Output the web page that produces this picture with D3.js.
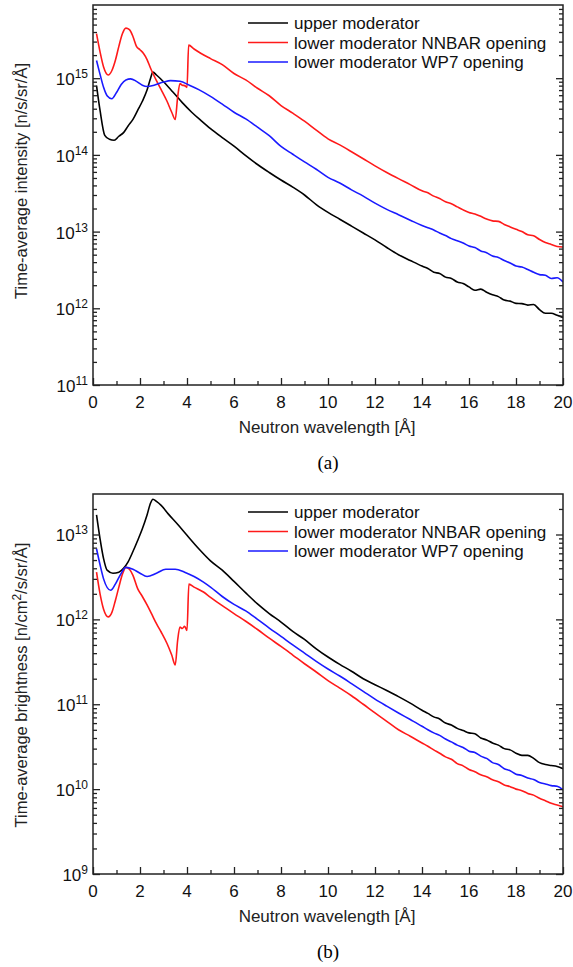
<!DOCTYPE html>
<html>
<head>
<meta charset="utf-8">
<script src="https://cdnjs.cloudflare.com/ajax/libs/d3/7.8.5/d3.min.js"></script>
<style>
  body { margin: 0; background: #fff; }
  svg { display: block; font-family: Arial, "Liberation Sans", sans-serif; }
</style>
</head>
<body>
<svg id="chart" width="573" height="967"></svg>
<script>
// wavelength [A], value pairs
// (a) time-average intensity [n/s/sr/A]
var upperA = [[0.15,8.0e14],[0.3,3.8e14],[0.5,1.8e14],[0.7,1.6e14],[0.9,1.55e14],[1.1,1.75e14],[1.3,1.95e14],[1.5,2.4e14],[1.7,2.9e14],[1.9,3.8e14],[2.1,5.0e14],[2.3,7.0e14],[2.45,1.0e15],[2.55,1.2e15],[2.7,1.1e15],[3.0,9.0e14],[3.4,6.6e14],[3.8,4.8e14],[4.2,3.6e14],[4.6,2.8e14],[5.0,2.2e14],[5.5,1.68e14],[6.0,1.3e14],[6.5,9.8e13],[7.0,7.5e13],[7.5,5.9e13],[8.0,4.7e13],[8.5,3.8e13],[9.0,3.0e13],[9.5,2.25e13],[10.0,1.78e13],[10.5,1.45e13],[11.0,1.18e13],[11.5,9.6e12],[12.0,7.8e12],[12.5,6.2e12],[13.0,5.0e12],[13.5,4.2e12],[14.0,3.55e12],[14.25,3.3e12],[14.5,2.95e12],[14.75,2.85e12],[15.0,2.55e12],[15.25,2.45e12],[15.5,2.2e12],[15.75,2.1e12],[16.0,1.9e12],[16.25,1.72e12],[16.5,1.78e12],[16.75,1.62e12],[17.0,1.5e12],[17.25,1.42e12],[17.5,1.28e12],[17.75,1.24e12],[18.0,1.16e12],[18.25,1.15e12],[18.5,1.1e12],[18.75,1.12e12],[19.0,9.6e11],[19.25,8.6e11],[19.5,8.6e11],[19.75,8.1e11],[20.0,7.6e11]];
var nnbarA = [[0.15,3.8e15],[0.3,2.2e15],[0.45,1.4e15],[0.65,1.1e15],[0.8,1.25e15],[0.95,1.7e15],[1.1,2.6e15],[1.25,3.8e15],[1.4,4.5e15],[1.55,4.3e15],[1.7,3.5e15],[1.85,2.6e15],[2.0,2.35e15],[2.15,2.1e15],[2.3,1.75e15],[2.45,1.35e15],[2.7,9.3e14],[2.9,7.1e14],[3.15,5.0e14],[3.35,3.6e14],[3.5,2.9e14],[3.6,5.6e14],[3.7,8.5e14],[3.8,8.1e14],[3.9,8.0e14],[4.0,7.6e14],[4.07,2.7e15],[4.3,2.4e15],[4.6,2.1e15],[5.0,1.8e15],[5.5,1.5e15],[6.0,1.15e15],[6.5,9.5e14],[7.0,7.4e14],[7.5,5.9e14],[8.0,4.4e14],[8.5,3.5e14],[9.0,2.75e14],[9.5,2.1e14],[10.0,1.62e14],[10.5,1.35e14],[11.0,1.1e14],[11.5,8.9e13],[12.0,7.2e13],[12.5,5.9e13],[13.0,4.9e13],[13.5,4.1e13],[14.0,3.4e13],[14.25,3.2e13],[14.5,2.9e13],[14.75,2.7e13],[15.0,2.45e13],[15.25,2.3e13],[15.5,2.1e13],[15.75,1.92e13],[16.0,1.78e13],[16.25,1.7e13],[16.5,1.58e13],[16.75,1.46e13],[17.0,1.38e13],[17.25,1.36e13],[17.5,1.24e13],[17.75,1.15e13],[18.0,1.07e13],[18.25,1.0e13],[18.5,9.1e12],[18.75,8.8e12],[19.0,7.9e12],[19.25,7.2e12],[19.5,6.8e12],[19.75,6.4e12],[20.0,6.3e12]];
var wp7A = [[0.15,1.7e15],[0.3,1.12e15],[0.45,7.6e14],[0.6,5.9e14],[0.8,5.4e14],[1.0,6.5e14],[1.2,8.3e14],[1.4,9.5e14],[1.6,9.8e14],[1.85,9.1e14],[2.1,8.1e14],[2.3,7.8e14],[2.6,8.1e14],[3.0,8.9e14],[3.3,9.3e14],[3.7,9.1e14],[4.1,8.1e14],[4.5,7.1e14],[5.0,5.8e14],[5.5,4.6e14],[6.0,3.6e14],[6.5,2.95e14],[7.0,2.3e14],[7.5,1.78e14],[8.0,1.29e14],[8.5,1.02e14],[9.0,8.1e13],[9.5,6.5e13],[10.0,5.1e13],[10.5,4.3e13],[11.0,3.5e13],[11.5,2.9e13],[12.0,2.35e13],[12.5,1.95e13],[13.0,1.66e13],[13.5,1.41e13],[14.0,1.2e13],[14.25,1.12e13],[14.5,1.05e13],[14.75,9.6e12],[15.0,8.9e12],[15.25,8.1e12],[15.5,7.6e12],[15.75,7.1e12],[16.0,6.5e12],[16.25,6.2e12],[16.5,5.6e12],[16.75,5.3e12],[17.0,4.8e12],[17.25,4.6e12],[17.5,4.2e12],[17.75,3.9e12],[18.0,3.55e12],[18.25,3.45e12],[18.5,3.2e12],[18.75,2.95e12],[19.0,2.75e12],[19.25,2.7e12],[19.5,2.45e12],[19.75,2.5e12],[20.0,2.2e12]];

// (b) time-average brightness [n/cm2/s/sr/A]
var upperB = [[0.15,1.7e13],[0.3,8.9e12],[0.45,5.2e12],[0.6,3.8e12],[0.85,3.5e12],[1.1,3.6e12],[1.3,4.0e12],[1.5,4.8e12],[1.7,6.3e12],[1.9,8.5e12],[2.1,1.17e13],[2.3,1.7e13],[2.45,2.35e13],[2.55,2.6e13],[2.7,2.45e13],[2.9,2.2e13],[3.2,1.75e13],[3.6,1.32e13],[4.0,9.8e12],[4.5,6.8e12],[5.0,4.9e12],[5.5,3.8e12],[6.0,2.8e12],[6.5,2.05e12],[7.0,1.52e12],[7.5,1.17e12],[8.0,9.3e11],[8.5,7.2e11],[9.0,5.8e11],[9.5,4.5e11],[10.0,3.6e11],[10.5,2.95e11],[11.0,2.45e11],[11.5,2.0e11],[12.0,1.7e11],[12.5,1.45e11],[13.0,1.23e11],[13.5,1.03e11],[14.0,8.5e10],[14.25,7.8e10],[14.5,7.1e10],[14.75,6.7e10],[15.0,6.0e10],[15.25,5.7e10],[15.5,5.2e10],[15.75,4.9e10],[16.0,4.6e10],[16.25,4.5e10],[16.5,4.0e10],[16.75,3.8e10],[17.0,3.5e10],[17.25,3.3e10],[17.5,3.0e10],[17.75,2.9e10],[18.0,2.65e10],[18.25,2.5e10],[18.5,2.5e10],[18.75,2.3e10],[19.0,2.05e10],[19.25,1.95e10],[19.5,1.9e10],[19.75,1.85e10],[20.0,1.74e10]];
var nnbarB = [[0.15,3.6e12],[0.3,2.0e12],[0.45,1.32e12],[0.65,1.07e12],[0.8,1.2e12],[0.95,1.66e12],[1.1,2.4e12],[1.25,3.4e12],[1.4,4.1e12],[1.55,3.9e12],[1.7,3.3e12],[1.9,2.3e12],[2.1,1.86e12],[2.3,1.48e12],[2.5,1.15e12],[2.7,8.9e11],[2.9,7.1e11],[3.15,5.2e11],[3.35,3.8e11],[3.5,2.9e11],[3.6,5.6e11],[3.7,8.1e11],[3.8,7.8e11],[3.9,8.3e11],[4.0,7.4e11],[4.08,2.6e12],[4.3,2.4e12],[4.7,2.1e12],[5.0,1.82e12],[5.5,1.45e12],[6.0,1.17e12],[6.5,9.5e11],[7.0,7.6e11],[7.5,6.0e11],[8.0,4.8e11],[8.5,3.8e11],[9.0,3.0e11],[9.5,2.4e11],[10.0,1.9e11],[10.5,1.55e11],[11.0,1.26e11],[11.5,1.0e11],[12.0,7.9e10],[12.5,6.3e10],[13.0,5.0e10],[13.5,4.2e10],[14.0,3.5e10],[14.25,3.2e10],[14.5,2.9e10],[14.75,2.65e10],[15.0,2.4e10],[15.25,2.25e10],[15.5,2.0e10],[15.75,1.88e10],[16.0,1.7e10],[16.25,1.6e10],[16.5,1.48e10],[16.75,1.4e10],[17.0,1.29e10],[17.25,1.22e10],[17.5,1.12e10],[17.75,1.07e10],[18.0,1.0e10],[18.25,9.6e9],[18.5,8.9e9],[18.75,8.5e9],[19.0,7.8e9],[19.25,7.3e9],[19.5,6.8e9],[19.75,6.5e9],[20.0,6.2e9]];
var wp7B = [[0.15,6.8e12],[0.3,4.4e12],[0.45,3.0e12],[0.75,2.2e12],[0.95,2.6e12],[1.15,3.3e12],[1.4,4.1e12],[1.7,3.9e12],[2.0,3.5e12],[2.3,3.2e12],[2.7,3.5e12],[3.1,3.9e12],[3.5,3.9e12],[3.9,3.6e12],[4.3,3.2e12],[4.7,2.75e12],[5.0,2.4e12],[5.5,1.86e12],[6.0,1.5e12],[6.5,1.26e12],[7.0,1.0e12],[7.5,7.9e11],[8.0,6.3e11],[8.5,5.0e11],[9.0,4.0e11],[9.5,3.2e11],[10.0,2.6e11],[10.5,2.15e11],[11.0,1.75e11],[11.5,1.42e11],[12.0,1.15e11],[12.5,9.5e10],[13.0,7.9e10],[13.5,6.6e10],[14.0,5.5e10],[14.25,5.0e10],[14.5,4.6e10],[14.75,4.3e10],[15.0,3.9e10],[15.25,3.6e10],[15.5,3.3e10],[15.75,3.1e10],[16.0,2.8e10],[16.25,2.7e10],[16.5,2.45e10],[16.75,2.3e10],[17.0,2.05e10],[17.25,1.95e10],[17.5,1.74e10],[17.75,1.65e10],[18.0,1.5e10],[18.25,1.45e10],[18.5,1.35e10],[18.75,1.3e10],[19.0,1.2e10],[19.25,1.15e10],[19.5,1.1e10],[19.75,1.08e10],[20.0,9.8e9]];

var legendLabels = ["upper moderator", "lower moderator NNBAR opening", "lower moderator WP7 opening"];
var colors = ["#000000", "#ff1a1a", "#1a1aff"];
var xTicks = [0, 2, 4, 6, 8, 10, 12, 14, 16, 18, 20];

var svg = d3.select("#chart");

function drawPanel(cfg) {
    var g = svg.append("g");

    var x = d3.scaleLinear().domain([0, 20]).range([93, 563]);
    var y = d3.scaleLog().domain(cfg.domain).range([cfg.bottom, cfg.top]);

    // clip so lines stay in the frame
    g.append("clipPath").attr("id", cfg.id)
        .append("rect")
        .attr("x", 93).attr("y", cfg.top)
        .attr("width", 470).attr("height", cfg.bottom - cfg.top);

    var line = d3.line()
        .x(function(d) { return x(d[0]); })
        .y(function(d) { return y(d[1]); })
        .curve(d3.curveMonotoneX);

    cfg.series.forEach(function(s, i) {
        g.append("path")
            .datum(s)
            .attr("clip-path", "url(#" + cfg.id + ")")
            .attr("d", line)
            .style("fill", "none")
            .style("stroke", colors[i])
            .style("stroke-width", 1.6);
    });

    // decade and minor ticks
    var lo = Math.round(Math.log10(cfg.domain[0]));
    var hi = Math.ceil(Math.log10(cfg.domain[1]));
    var majors = [], minors = [];
    for (var e = lo; e <= hi; e++) {
        if (Math.pow(10, e) <= cfg.domain[1]) majors.push(Math.pow(10, e));
        for (var m = 2; m <= 9; m++) {
            var v = m * Math.pow(10, e);
            if (v < cfg.domain[1]) minors.push(v);
        }
    }

    var axisStyle = function(sel) {
        sel.select(".domain").remove();
        sel.selectAll("line").style("stroke", "#222").style("stroke-width", 1.3);
    };

    g.append("g").attr("transform", "translate(93,0)")
        .call(d3.axisLeft(y).tickValues(majors).tickSize(-7).tickFormat(""))
        .call(axisStyle);
    g.append("g").attr("transform", "translate(93,0)")
        .call(d3.axisLeft(y).tickValues(minors).tickSize(-4).tickFormat(""))
        .call(axisStyle);
    g.append("g").attr("transform", "translate(563,0)")
        .call(d3.axisRight(y).tickValues(majors).tickSize(-7).tickFormat(""))
        .call(axisStyle);
    g.append("g").attr("transform", "translate(563,0)")
        .call(d3.axisRight(y).tickValues(minors).tickSize(-4).tickFormat(""))
        .call(axisStyle);

    // x axis ticks pointing inward
    g.append("g").attr("transform", "translate(0," + cfg.bottom + ")")
        .call(d3.axisBottom(x).tickValues(xTicks).tickSize(-7).tickFormat(""))
        .call(axisStyle);
    g.append("g").attr("transform", "translate(0," + cfg.bottom + ")")
        .call(d3.axisBottom(x).tickValues(d3.range(1, 20, 2)).tickSize(-4).tickFormat(""))
        .call(axisStyle);

    // frame
    g.append("rect")
        .attr("x", 93).attr("y", cfg.top)
        .attr("width", 470).attr("height", cfg.bottom - cfg.top)
        .style("fill", "none").style("stroke", "#222").style("stroke-width", 1.5);

    // y tick labels 10^n
    majors.forEach(function(v) {
        var t = g.append("text")
            .attr("x", 88)
            .attr("y", y(v) + 7)
            .attr("text-anchor", "end")
            .style("font-size", "17px")
            .style("fill", "#111");
        t.append("tspan").text("10");
        t.append("tspan").attr("dy", -7).style("font-size", "12px").text(Math.round(Math.log10(v)));
    });

    // x tick labels
    xTicks.forEach(function(v) {
        g.append("text")
            .attr("x", x(v))
            .attr("y", cfg.bottom + 23)
            .attr("text-anchor", "middle")
            .style("font-size", "17px")
            .style("fill", "#111")
            .text(v);
    });

    g.append("text")
        .attr("x", 327)
        .attr("y", cfg.bottom + 48)
        .attr("text-anchor", "middle")
        .style("font-size", "17px")
        .style("fill", "#222")
        .text("Neutron wavelength [Å]");

    // rotated y title
    var yt = g.append("text")
        .attr("transform", "translate(27," + cfg.titleY + ") rotate(-90)")
        .attr("text-anchor", "middle")
        .style("font-size", "16.5px")
        .style("fill", "#222");
    cfg.yTitle(yt);

    // caption
    g.append("text")
        .attr("x", 328)
        .attr("y", cfg.bottom + 84)
        .attr("text-anchor", "middle")
        .style("font-family", "'Liberation Serif', 'Times New Roman', serif")
        .style("font-size", "19px")
        .text(cfg.caption);

    // legend
    legendLabels.forEach(function(lab, i) {
        var ly = cfg.top + 18 + i * 19.5;
        g.append("line")
            .attr("x1", 248).attr("x2", 288)
            .attr("y1", ly).attr("y2", ly)
            .style("stroke", colors[i]).style("stroke-width", 1.6);
        g.append("text")
            .attr("x", 294)
            .attr("y", ly + 6)
            .style("font-size", "17px")
            .style("fill", "#111")
            .text(lab);
    });
}

drawPanel({
    id: "clipA", top: 5, bottom: 385, domain: [1e11, 9e15], titleY: 181,
    series: [upperA, nnbarA, wp7A], caption: "(a)",
    yTitle: function(t) { t.text("Time-average intensity [n/s/sr/Å]"); }
});

drawPanel({
    id: "clipB", top: 494, bottom: 874, domain: [1e9, 3e13], titleY: 685,
    series: [upperB, nnbarB, wp7B], caption: "(b)",
    yTitle: function(t) {
        t.append("tspan").text("Time-average brightness [n/cm");
        t.append("tspan").attr("dy", -6).style("font-size", "12px").text("2");
        t.append("tspan").attr("dy", 6).text("/s/sr/Å]");
    }
});
</script>
</body>
</html>
